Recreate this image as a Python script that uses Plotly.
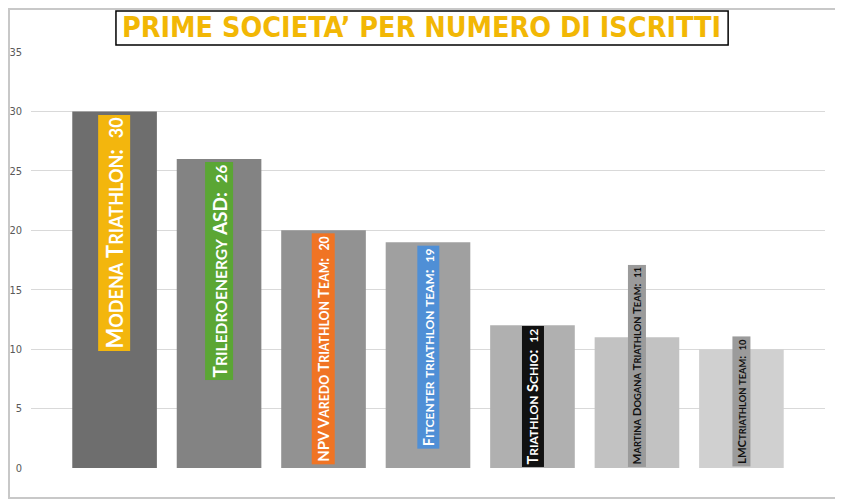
import plotly.graph_objects as go

# data
societies = [
    "Modena Triathlon",
    "Triledroenergy ASD",
    "NPV Varedo Triathlon Team",
    "Fitcenter triathlon team",
    "Triathlon Schio",
    "Martina Dogana Triathlon Team",
    "LMCtriathlon team",
]
iscritti = [30, 26, 20, 19, 12, 11, 10]
y_ticks = [0, 5, 10, 15, 20, 25, 30, 35]
title_text = "PRIME SOCIETA’ PER NUMERO DI ISCRITTI"

# styles
bar_colors = ["#6e6e6e", "#838383", "#929292", "#a0a0a0", "#b0b0b0", "#c2c2c2", "#d0d0d0"]
label_bg = ["#f3b60d", "#5ba634", "#f07424", "#4f8fd6", "#111111", "#9b9b9b", "#9b9b9b"]
label_fg = ["white", "white", "white", "white", "white", "#111111", "#111111"]
label_size = [22, 19, 15, 14.6, 14.6, 11.5, 11.3]
condensed = "DejaVu Sans Condensed, Liberation Sans Narrow, sans-serif"


def small_caps(name, value, size):
    small = round(size * 0.82, 1)
    out = []
    for ch in name:
        if ch.islower():
            out.append(f"<span style='font-size:{small}px'>{ch.upper()}</span>")
        else:
            out.append(ch)
    out.append(f":  <span style='font-size:{small}px'>{value}</span>")
    return "".join(out)


x_pos = list(range(len(societies)))

fig = go.Figure(
    go.Bar(
        x=x_pos,
        y=iscritti,
        width=0.81,
        marker=dict(color=bar_colors, line=dict(width=0)),
        hoverinfo="skip",
    )
)

annotations = []
for i, (name, val) in enumerate(zip(societies, iscritti)):
    on_top = val >= 19
    annotations.append(dict(
        x=i, y=val if on_top else 0,
        xref="x", yref="y",
        yanchor="top" if on_top else "bottom",
        yshift=-3 if on_top else 1,
        text=small_caps(name, val, label_size[i]),
        textangle=-90,
        showarrow=False,
        bgcolor=label_bg[i],
        borderpad=2,
        font=dict(family="Lato, Open Sans, sans-serif", size=label_size[i],
                  color=label_fg[i], weight="bold"),
    ))

annotations.append(dict(
    x=0.4924, y=1.0577, xref="paper", yref="paper",
    xanchor="center", yanchor="middle",
    text=f"<b>{title_text}</b>", showarrow=False,
    font=dict(family=condensed, size=28.5, color="#f2b705"),
))

fig.update_layout(
    width=835, height=492,
    margin=dict(l=23, r=18, t=44, b=32),
    paper_bgcolor="white",
    plot_bgcolor="white",
    showlegend=False,
    annotations=annotations,
    shapes=[
        dict(type="rect", xref="paper", yref="paper",
             x0=0.107, x1=0.878, y0=1.0168, y1=1.0986,
             line=dict(color="black", width=1.5), fillcolor="white", layer="below"),
        dict(type="rect", xref="paper", yref="paper",
             x0=-0.0277, x1=1.0214, y0=-0.0721, y1=1.1034,
             line=dict(color="#c8c8c8", width=2)),
    ],
    xaxis=dict(range=[-0.8, 6.8], showticklabels=False, showgrid=False,
               zeroline=False, showline=False, ticks="", automargin=False),
    yaxis=dict(range=[0, 35], tickvals=y_ticks, showgrid=True, gridcolor="#d9d9d9",
               gridwidth=1, zeroline=False, showline=False, ticks="",
               automargin=False, ticklabelstandoff=8,
               tickfont=dict(family=condensed, size=11, color="#595959")),
)

fig.write_html("out.html")
